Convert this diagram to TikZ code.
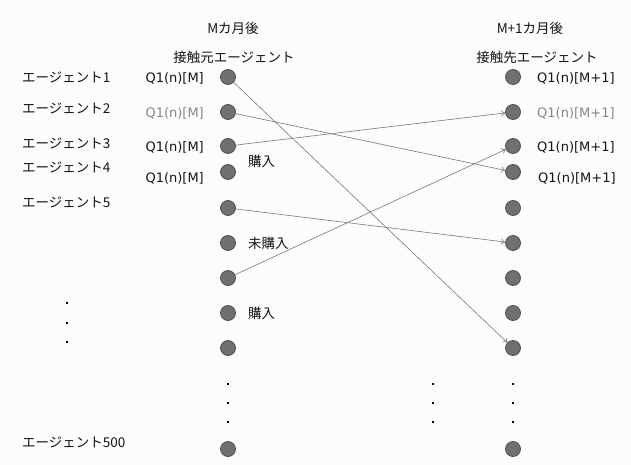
\documentclass[tikz,border=0pt]{standalone}
\usepackage{fontspec}
\setmainfont{DejaVu Sans}
\newfontfamily\jpfont{Noto Sans CJK JP}
\usetikzlibrary{arrows.meta}
\definecolor{bgc}{RGB}{252,252,250}
\definecolor{dotfill}{RGB}{112,112,112}
\definecolor{dotline}{RGB}{80,80,80}
\definecolor{txt}{RGB}{20,20,20}
\definecolor{ltxt}{RGB}{135,135,135}
\definecolor{arr}{RGB}{120,120,120}
\begin{document}
\begin{tikzpicture}[x=1pt,y=-1pt,
  agent/.style={circle,fill=dotfill,draw=dotline,line width=0.8pt,minimum size=15pt,inner sep=0pt},
  jp/.style={font=\jpfont\fontsize{13.5}{15}\selectfont,text=txt,inner sep=0pt},
  ql/.style={font=\fontsize{13}{14}\selectfont,text=txt,inner sep=0pt},
  qlg/.style={ql,text=ltxt},
  link/.style={draw=arr,line width=0.6pt,-{To[length=4pt,width=6pt]}},
  tdot/.style={fill=black,minimum size=2pt,inner sep=0pt}]
\fill[bgc] (0,0) rectangle (631,465);
\useasboundingbox (0,0) rectangle (631,465);
% headers
\node[jp] (h1) at (233,28) {Mカ月後};
\node[jp] (h2) at (234,57) {接触元エージェント};
\node[jp] (h3) at (530,28) {M+1カ月後};
\node[jp] (h4) at (537,57) {接触先エージェント};
% circles
\foreach \i/\y in {1/77,2/112,3/146,4/172,5/208,6/243,7/278,8/313,9/348,10/449}{
  \node[agent] (l\i) at (228,\y) {};
  \node[agent] (r\i) at (513,\y) {};
}
% left names
\node[jp,anchor=west] (n1) at (22,77) {エージェント1};
\node[jp,anchor=west] (n2) at (22,108) {エージェント2};
\node[jp,anchor=west] (n3) at (22,143) {エージェント3};
\node[jp,anchor=west] (n4) at (22,167) {エージェント4};
\node[jp,anchor=west] (n5) at (22,202) {エージェント5};
\node[jp,anchor=west] (n500) at (22,442) {エージェント500};
% Q labels
\node[ql,anchor=east] (q1) at (204,78) {Q1(n)[M]};
\node[qlg,anchor=east] (q2) at (204,113) {Q1(n)[M]};
\node[ql,anchor=east] (q3) at (204,147) {Q1(n)[M]};
\node[ql,anchor=east] (q4) at (204,178) {Q1(n)[M]};
\node[ql,anchor=west] (p1) at (537,78) {Q1(n)[M+1]};
\node[qlg,anchor=west] (p2) at (537,113) {Q1(n)[M+1]};
\node[ql,anchor=west] (p3) at (537,147) {Q1(n)[M+1]};
\node[ql,anchor=west] (p4) at (538,178) {Q1(n)[M+1]};
% status
\node[jp,anchor=west] (s1) at (248,161) {購入};
\node[jp,anchor=west] (s2) at (248,243) {未購入};
\node[jp,anchor=west] (s3) at (248,313) {購入};
% ellipsis dots
\foreach \y [count=\k] in {303,323,342}{\node[tdot] (da\k) at (67,\y) {};}
\foreach \y [count=\k] in {384,403,422}{
  \node[tdot] (db\k) at (228,\y) {};
  \node[tdot] (dc\k) at (433,\y) {};
  \node[tdot] (dd\k) at (513,\y) {};
}
% links
\draw[link] (l1) -- (r9);
\draw[link] (l2) -- (r4);
\draw[link] (l3) -- (r2);
\draw[link] (l5) -- (r6);
\draw[link] (l7) -- (r3);
\end{tikzpicture}
\end{document}
